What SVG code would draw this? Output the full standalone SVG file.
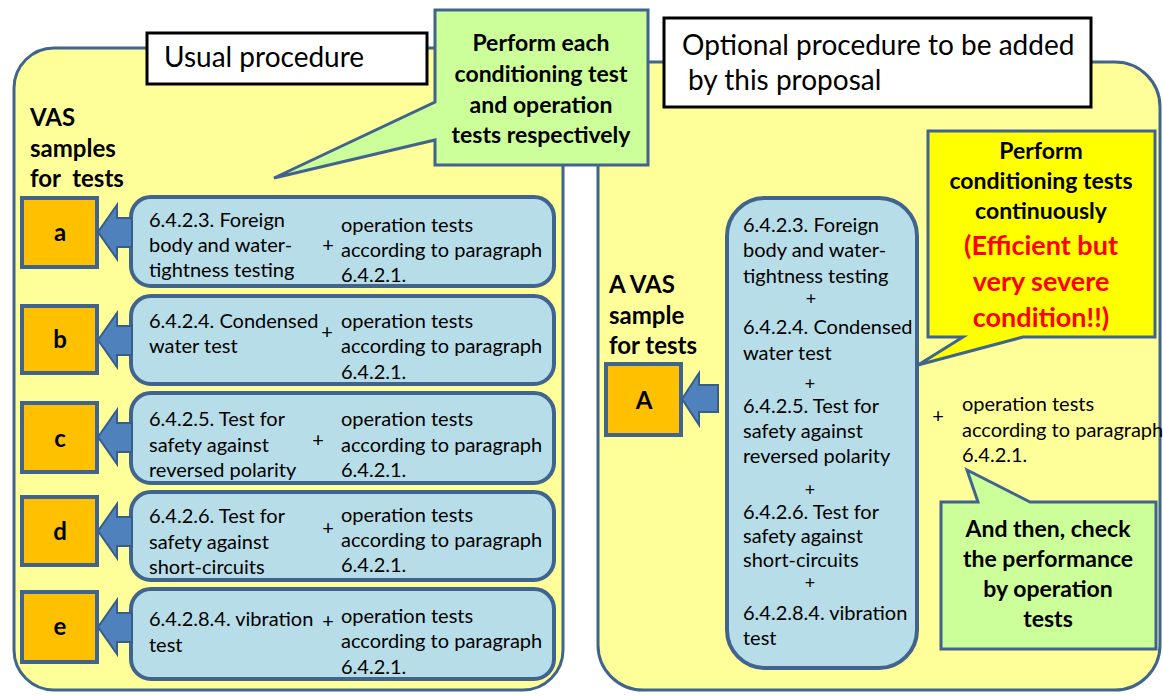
<svg xmlns="http://www.w3.org/2000/svg" width="1163" height="696" viewBox="0 0 1163 696">
<style>
text{font-family:Lato,"Liberation Sans",sans-serif;fill:#000}
.b{font-size:20px}
.p{font-size:18px;text-anchor:middle}
.t{font-size:28px}
.c{font-size:23px;font-weight:bold}
.s{font-size:24px;font-weight:bold}
.m{text-anchor:middle}
.r{fill:#FF0000;font-size:27px;font-weight:bold}
.panel{fill:#FFFF99;stroke:#41648F;stroke-width:3}
.box{fill:#B7DEE8;stroke:#41648F;stroke-width:4}
.org{fill:#FFC000;stroke:#41648F;stroke-width:4}
.arr{fill:#4F81BD;stroke:#385D8A;stroke-width:2}
.grn{fill:#CCFF99;stroke:#41648F;stroke-width:3}
.yel{fill:#FFFF00;stroke:#41648F;stroke-width:3}
.ttl{fill:#FFFFFF;stroke:#000;stroke-width:3}
</style>
<rect width="1163" height="696" fill="#FFFFFF"/>
<g id="panel-usual">
<rect class="panel" x="14" y="48" width="549" height="642" rx="40"/>
<text class="s" x="30" y="126">VAS</text>
<text class="s" x="30" y="157">samples</text>
<text class="s" x="30" y="187" xml:space="preserve">for  tests</text>
</g>
<g id="panel-optional">
<rect class="panel" x="598" y="62" width="562" height="628" rx="45"/>
<text class="s" x="609" y="293">A VAS</text>
<text class="s" x="609" y="324">sample</text>
<text class="s" x="609" y="354">for tests</text>
<text class="b m" x="938" y="423">+</text>
<text class="b" x="962" y="411">operation tests</text>
<text class="b" x="962" y="437">according to paragraph</text>
<text class="b" x="962" y="462">6.4.2.1.</text>
</g>
<g id="title-usual">
<rect class="ttl" x="147" y="33" width="280" height="51"/>
<text class="t" x="164" y="67">Usual procedure</text>
</g>
<g id="title-optional">
<rect class="ttl" x="664" y="18" width="427" height="89"/>
<text class="t" x="682" y="55">Optional procedure to be added</text>
<text class="t" x="688" y="90">by this proposal</text>
</g>
<g id="callout-each">
<polygon class="grn" points="435,10 648,10 648,165 435,165 435,140 274,178 435,102"/>
<text class="c m" x="541" y="51">Perform each</text>
<text class="c m" x="541" y="82">conditioning test</text>
<text class="c m" x="541" y="113">and operation</text>
<text class="c m" x="541" y="143">tests respectively</text>
</g>
<g id="sample-a">
<rect class="org" x="22" y="198" width="75" height="69"/>
<text class="s m" x="60" y="241">a</text>
</g>
<g id="test-a">
<rect class="box" x="131" y="197" width="423" height="89" rx="20"/>
<text class="b" x="149" y="227">6.4.2.3. Foreign</text>
<text class="b" x="149" y="252">body and water-</text>
<text class="b" x="149" y="277">tightness testing</text>
<text class="b m" x="328" y="252">+</text>
<text class="b" x="341" y="232">operation tests</text>
<text class="b" x="341" y="257">according to paragraph</text>
<text class="b" x="341" y="282">6.4.2.1.</text>
</g>
<g id="sample-b">
<rect class="org" x="22" y="306" width="75" height="67"/>
<text class="s m" x="60" y="348">b</text>
</g>
<g id="test-b">
<rect class="box" x="131" y="296" width="423" height="88" rx="20"/>
<text class="b" x="149" y="328">6.4.2.4. Condensed</text>
<text class="b" x="149" y="353">water test</text>
<text class="b m" x="327" y="339">+</text>
<text class="b" x="341" y="328">operation tests</text>
<text class="b" x="341" y="353">according to paragraph</text>
<text class="b" x="341" y="379">6.4.2.1.</text>
</g>
<g id="sample-c">
<rect class="org" x="22" y="403" width="75" height="69"/>
<text class="s m" x="60" y="447">c</text>
</g>
<g id="test-c">
<rect class="box" x="131" y="393" width="423" height="90" rx="20"/>
<text class="b" x="149" y="426">6.4.2.5. Test for</text>
<text class="b" x="149" y="452">safety against</text>
<text class="b" x="149" y="477">reversed polarity</text>
<text class="b m" x="318" y="447">+</text>
<text class="b" x="341" y="426">operation tests</text>
<text class="b" x="341" y="452">according to paragraph</text>
<text class="b" x="341" y="477">6.4.2.1.</text>
</g>
<g id="sample-d">
<rect class="org" x="22" y="497" width="75" height="68"/>
<text class="s m" x="60" y="540">d</text>
</g>
<g id="test-d">
<rect class="box" x="131" y="492" width="423" height="88" rx="20"/>
<text class="b" x="149" y="523">6.4.2.6. Test for</text>
<text class="b" x="149" y="549">safety against</text>
<text class="b" x="149" y="574">short-circuits</text>
<text class="b m" x="328" y="535">+</text>
<text class="b" x="341" y="522">operation tests</text>
<text class="b" x="341" y="547">according to paragraph</text>
<text class="b" x="341" y="572">6.4.2.1.</text>
</g>
<g id="sample-e">
<rect class="org" x="22" y="592" width="75" height="70"/>
<text class="s m" x="60" y="635">e</text>
</g>
<g id="test-e">
<rect class="box" x="131" y="589" width="423" height="90" rx="20"/>
<text class="b" x="149" y="626">6.4.2.8.4. vibration</text>
<text class="b" x="149" y="652">test</text>
<text class="b m" x="328" y="628">+</text>
<text class="b" x="341" y="623">operation tests</text>
<text class="b" x="341" y="648">according to paragraph</text>
<text class="b" x="341" y="674">6.4.2.1.</text>
</g>
<g id="sample-A">
<rect class="org" x="606" y="364" width="75" height="71"/>
<text class="s m" x="644" y="409">A</text>
</g>
<g id="tests-combined">
<rect class="box" x="727" y="198" width="190" height="470" rx="38"/>
<text class="b" x="743" y="232">6.4.2.3. Foreign</text>
<text class="b" x="743" y="257">body and water-</text>
<text class="b" x="743" y="283">tightness testing</text>
<text class="p" x="811" y="305">+</text>
<text class="b" x="743" y="334">6.4.2.4. Condensed</text>
<text class="b" x="743" y="360">water test</text>
<text class="p" x="810" y="390">+</text>
<text class="b" x="743" y="413">6.4.2.5. Test for</text>
<text class="b" x="743" y="438">safety against</text>
<text class="b" x="743" y="463">reversed polarity</text>
<text class="p" x="810" y="496">+</text>
<text class="b" x="743" y="519">6.4.2.6. Test for</text>
<text class="b" x="743" y="543">safety against</text>
<text class="b" x="743" y="567">short-circuits</text>
<text class="p" x="810" y="589">+</text>
<text class="b" x="743" y="620">6.4.2.8.4. vibration</text>
<text class="b" x="743" y="645">test</text>
</g>
<g id="callout-continuous">
<polygon class="yel" points="928,131 1155,131 1155,337 1023,337 918,365 963,337 928,337"/>
<text class="c m" x="1041" y="159">Perform</text>
<text class="c m" x="1041" y="189">conditioning tests</text>
<text class="c m" x="1041" y="219">continuously</text>
<text class="r m" x="1041" y="255">(Efficient but</text>
<text class="r m" x="1041" y="291">very severe</text>
<text class="r m" x="1041" y="327">condition!!)</text>
</g>
<g id="callout-check">
<polygon class="grn" points="941,502 978,502 967,470 1030,502 1156,502 1156,649 941,649"/>
<text class="c m" x="1048" y="537">And then, check</text>
<text class="c m" x="1048" y="567">the performance</text>
<text class="c m" x="1048" y="597">by operation</text>
<text class="c m" x="1048" y="627">tests</text>
</g>
<g id="connectors">
<polygon class="arr" points="98,232 117,205 117,218 132,218 132,247 117,247 117,259"/>
<polygon class="arr" points="98,340 117,313 117,326 132,326 132,355 117,355 117,367"/>
<polygon class="arr" points="98,437 117,410 117,423 132,423 132,452 117,452 117,464"/>
<polygon class="arr" points="98,531 117,504 117,517 132,517 132,546 117,546 117,558"/>
<polygon class="arr" points="98,627 117,600 117,613 132,613 132,642 117,642 117,654"/>
<polygon class="arr" points="682,399 699,373 699,385 718,385 718,412 699,412 699,425"/>
</g>
</svg>
